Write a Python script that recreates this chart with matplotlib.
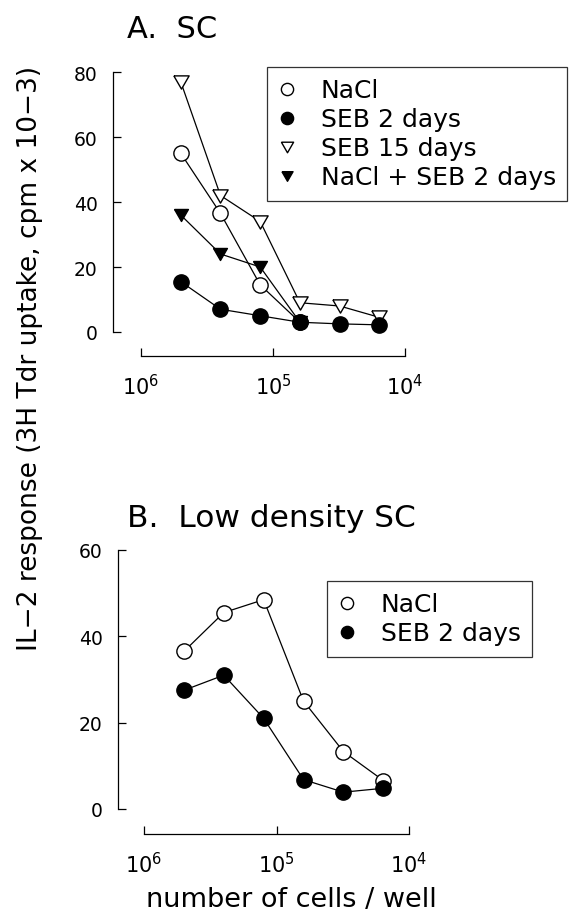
import matplotlib
matplotlib.use("Agg")
import matplotlib.pyplot as plt
from matplotlib.ticker import FixedLocator, NullLocator, FixedFormatter

# ---------------- data ----------------
cells = [5e5, 2.5e5, 1.25e5, 6.25e4, 3.125e4, 1.5625e4]

a_nacl = [55, 36.5, 14.5, 3]
a_seb2 = [15.5, 7, 5, 3, 2.5, 2.2]
a_seb15 = [77, 42, 34, 9, 8, 4.5]
a_nacl_seb2 = [36, 24, 20, 3]

b_nacl = [36.5, 45.5, 48.5, 25, 13.3, 6.6]
b_seb2 = [27.5, 31, 21, 6.8, 3.9, 4.8]

a_yticks = [0, 20, 40, 60, 80]
b_yticks = [0, 20, 40, 60]
xticks = [1e6, 1e5, 1e4]
xticklabels = [r"$10^6$", r"$10^5$", r"$10^4$"]

title_a = "A.  SC"
title_b = "B.  Low density SC"
ylabel = "IL\u22122 response (3H Tdr uptake, cpm x 10\u22123)"
xlabel = "number of cells / well"

# ---------------- style ----------------
plt.rcParams['font.family'] = ['DejaVu Sans']
plt.rcParams['mathtext.fontset'] = 'dejavusans'
W, H = 585, 920
PX = 72 / 100  # points per pixel
fig = plt.figure(figsize=(W / 100, H / 100), dpi=100)

tri_down = [(-1, 0.866), (1, 0.866), (0, -0.866), (-1, 0.866)]

line_kw = dict(color='black', lw=0.9, clip_on=False)


def ax_rect(l, r, t, b):
    return [l / W, 1 - b / H, (r - l) / W, (b - t) / H]


def style_axis(ax, ymax, yticks, left_off, bottom_off):
    ax.set_xscale('log')
    ax.set_xlim(1e6, 1e4)
    ax.set_ylim(0, ymax)
    for s in ('top', 'right'):
        ax.spines[s].set_visible(False)
    ax.spines['left'].set_position(('outward', left_off * PX))
    ax.spines['bottom'].set_position(('outward', bottom_off * PX))
    for s in ('left', 'bottom'):
        ax.spines[s].set_linewidth(0.9)
    ax.xaxis.set_major_locator(FixedLocator(xticks))
    ax.xaxis.set_major_formatter(FixedFormatter(xticklabels))
    ax.xaxis.set_minor_locator(NullLocator())
    ax.set_yticks(yticks)
    ax.tick_params(axis='both', direction='in', length=6, width=0.9,
                   colors='black')
    ax.tick_params(axis='x', pad=12, labelsize=15)
    ax.tick_params(axis='y', pad=11, labelsize=13.5)
    ax.patch.set_visible(False)


def make_legend(handles, labels, x, y):
    leg = fig.legend(handles, labels, loc='upper left',
                     bbox_to_anchor=(x / W, 1 - y / H), bbox_transform=fig.transFigure,
                     frameon=True, fancybox=False, edgecolor='black', fontsize=18,
                     handlelength=0.7, handletextpad=1.0, labelspacing=0.2,
                     borderpad=0.45, borderaxespad=0, markerscale=0.8)
    leg.get_frame().set_linewidth(0.9)
    for lh in leg.legend_handles:
        lh.set_linestyle('none')
    return leg


# ---------------- panel A ----------------
axA = fig.add_axes(ax_rect(141, 405, 73, 333))
style_axis(axA, 80, a_yticks, 28, 24)
axA.plot(cells[:len(a_nacl)], a_nacl, marker='o', ms=11, mfc='white', mec='black',
         mew=1.0, label='NaCl', zorder=3, **line_kw)
axA.plot(cells, a_seb15, marker=tri_down, ms=11, mfc='white', mec='black',
         mew=1.0, label='SEB 15 days', zorder=2, **line_kw)
axA.plot(cells[:len(a_nacl_seb2)], a_nacl_seb2, marker=tri_down, ms=10, mfc='black',
         mec='black', label='NaCl + SEB 2 days', zorder=3, **line_kw)
axA.plot(cells, a_seb2, marker='o', ms=11, mfc='black', mec='black',
         label='SEB 2 days', zorder=4, **line_kw)
h, l = axA.get_legend_handles_labels()
order = ['NaCl', 'SEB 2 days', 'SEB 15 days', 'NaCl + SEB 2 days']
hh = [h[l.index(o)] for o in order]
make_legend(hh, order, 267, 68)

# ---------------- panel B ----------------
axB = fig.add_axes(ax_rect(144, 409, 551, 810))
style_axis(axB, 60, b_yticks, 26, 25)
axB.plot(cells, b_nacl, marker='o', ms=11, mfc='white', mec='black', mew=1.0,
         label='NaCl', zorder=3, **line_kw)
axB.plot(cells, b_seb2, marker='o', ms=11, mfc='black', mec='black',
         label='SEB 2 days', zorder=4, **line_kw)
make_legend(*axB.get_legend_handles_labels(), 327, 582)

# ---------------- texts ----------------
fig.text(127 / W, 1 - 38 / H, title_a, fontsize=22, ha='left', va='baseline')
fig.text(127 / W, 1 - 527 / H, title_b, fontsize=22.5, ha='left', va='baseline')
fig.text(30 / W, 1 - 358 / H, ylabel, fontsize=19, rotation=90, ha='center', va='center')
fig.text(291 / W, 1 - 900 / H, xlabel, fontsize=19.5, ha='center', va='center')

fig.savefig('out.png', dpi=100)
